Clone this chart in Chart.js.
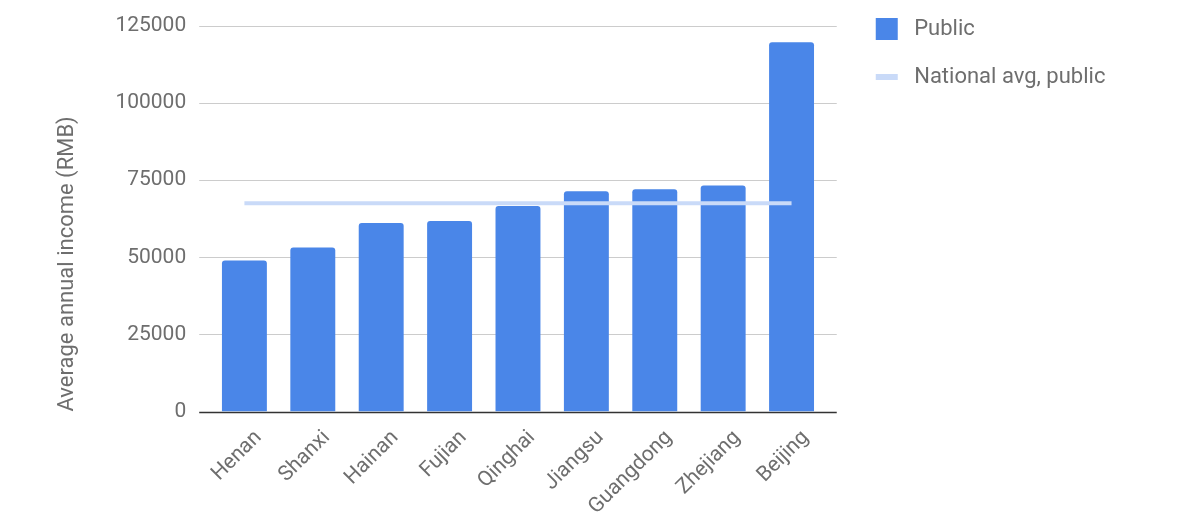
<!DOCTYPE html>
<html>
<head>
<meta charset="utf-8">
<script src="https://cdn.jsdelivr.net/npm/chart.js@4.4.1/dist/chart.umd.min.js"></script>
<style>
  body { margin: 0; background: #fff; }
  #wrap { width: 1200px; height: 518px; }
</style>
</head>
<body>
<div id="wrap"><canvas id="myChart" width="1200" height="518"></canvas></div>
<script>
// data
var provinces = ['Henan', 'Shanxi', 'Hainan', 'Fujian', 'Qinghai', 'Jiangsu', 'Guangdong', 'Zhejiang', 'Beijing'];
var publicIncome = [49000, 53200, 61100, 61800, 66600, 71400, 72100, 73300, 119700];
var nationalAvgPublic = [67500, 67500, 67500, 67500, 67500, 67500, 67500, 67500, 67500];
var yTicks = [0, 25000, 50000, 75000, 100000, 125000];

var textGray = '#6e6e6e';
Chart.defaults.font.family = 'Roboto';
Chart.defaults.color = textGray;

// horizontal grid runs a bit past the outer bars, like the original
var wideGrid = {
    id: 'wideGrid',
    beforeDatasetsDraw: function(chart) {
        var ctx = chart.ctx;
        var area = chart.chartArea;
        var y = chart.scales.y;
        ctx.save();
        yTicks.forEach(function(v) {
            var py = Math.round(y.getPixelForValue(v)) + 0.5;
            ctx.beginPath();
            ctx.strokeStyle = v === 0 ? '#333333' : '#cccccc';
            ctx.lineWidth = v === 0 ? 1.5 : 1;
            ctx.moveTo(area.left - 11, py);
            ctx.lineTo(area.right + 11, py);
            ctx.stroke();
        });
        ctx.restore();
    },
    afterLayout: function(chart) {
        // move the legend up/right into the top-right corner
        var lg = chart.legend;
        lg.left += 24;
        lg.right += 40;
        lg.top -= 34;
    }
};

const ctxc = document.getElementById('myChart');
const chart = new Chart(ctxc, {
    type: 'bar',
    data: {
        labels: provinces,
        datasets: [
            {
                label: 'Public',
                data: publicIncome,
                backgroundColor: '#4a86e8',
                borderRadius: { topLeft: 3, topRight: 3 },
                borderSkipped: 'start',
                categoryPercentage: 1,
                barPercentage: 0.657,
                pointStyle: 'rect',
                order: 1
            },
            {
                type: 'line',
                label: 'National avg, public',
                data: nationalAvgPublic,
                borderColor: '#c9daf8',
                backgroundColor: '#c9daf8',
                borderWidth: 4,
                pointRadius: 0,
                fill: false,
                order: 0
            }
        ]
    },
    options: {
        responsive: false,
        animation: false,
        layout: {
            padding: { left: 54, right: 117, top: 26, bottom: 0 }
        },
        scales: {
            x: {
                grid: { display: false },
                border: { display: false },
                ticks: {
                    autoSkip: false,
                    minRotation: 45,
                    maxRotation: 45,
                    padding: 6,
                    labelOffset: 14,
                    font: { size: 21 }
                },
                afterFit: function(scale) {
                    scale.height = 106.5;
                }
            },
            y: {
                min: 0,
                max: 125000,
                // invisible tick marks keep the gap between labels and plot
                grid: { display: false, drawTicks: true, tickLength: 22 },
                border: { display: false },
                ticks: {
                    stepSize: 25000,
                    padding: 2,
                    font: { size: 21 },
                    callback: function(v) { return String(v); }
                },
                title: {
                    display: true,
                    align: 'start',
                    text: 'Average annual income (RMB)',
                    font: { size: 22 },
                    padding: { top: 0, bottom: 33 }
                }
            }
        },
        plugins: {
            tooltip: { enabled: false },
            legend: {
                position: 'right',
                align: 'start',
                labels: {
                    usePointStyle: true,
                    pointStyleWidth: 22,
                    padding: 26,
                    font: { size: 22 },
                    color: textGray,
                    sort: function(a, b) { return a.datasetIndex - b.datasetIndex; },
                    generateLabels: function(chart) {
                        var items = Chart.defaults.plugins.legend.labels.generateLabels(chart);
                        items.forEach(function(it) {
                            it.text = ' ' + it.text;
                            if (it.datasetIndex === 1) {
                                it.pointStyle = 'line';
                                it.strokeStyle = '#c9daf8';
                                it.lineWidth = 6;
                                it.lineCap = 'butt';
                            } else {
                                it.pointStyle = 'rect';
                                it.fillStyle = '#4a86e8';
                                it.lineWidth = 0;
                            }
                        });
                        return items;
                    }
                }
            }
        }
    },
    plugins: [wideGrid]
});
</script>
</body>
</html>
